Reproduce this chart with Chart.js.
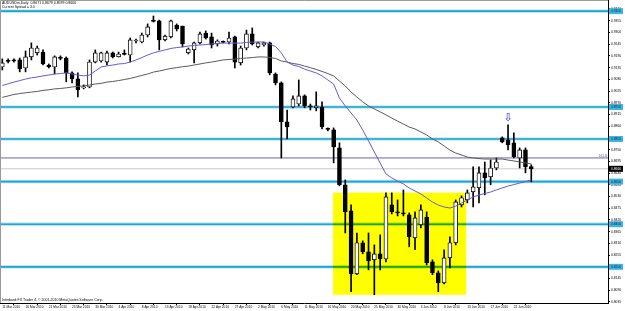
<!DOCTYPE html>
<html><head><meta charset="utf-8">
<script src="https://cdn.jsdelivr.net/npm/chart.js@4.4.1/dist/chart.umd.min.js"></script>
<style>html,body{margin:0;padding:0;background:#fff;overflow:hidden}canvas{display:block}</style>
</head><body>
<canvas id="c" width="625" height="311"></canvas>
<script>
// ---- data (AUDUSDm, Daily) ----
const barDates = ["11 Mar","12 Mar","14 Mar","15 Mar","16 Mar","17 Mar","18 Mar","19 Mar","21 Mar","22 Mar",
"23 Mar","24 Mar","25 Mar","26 Mar","28 Mar","29 Mar","30 Mar","31 Mar","1 Apr","2 Apr",
"4 Apr","5 Apr","6 Apr","7 Apr","8 Apr","9 Apr","11 Apr","12 Apr","13 Apr","14 Apr",
"15 Apr","16 Apr","18 Apr","19 Apr","20 Apr","21 Apr","22 Apr","23 Apr","25 Apr","26 Apr",
"27 Apr","28 Apr","29 Apr","30 Apr","2 May","3 May","4 May","5 May","6 May","7 May",
"9 May","10 May","11 May","12 May","13 May","14 May","16 May","17 May","18 May","19 May",
"20 May","21 May","23 May","24 May","25 May","26 May","27 May","28 May","30 May","31 May",
"1 Jun","2 Jun","3 Jun","4 Jun","6 Jun","7 Jun","8 Jun","9 Jun","10 Jun","11 Jun",
"13 Jun","14 Jun","15 Jun","16 Jun","17 Jun","18 Jun","20 Jun","21 Jun","22 Jun","23 Jun",
"24 Jun","25 Jun"];
const openP = [
.9138,.9166,.9171,.9171,.9133,.9185,.9204,.9208,.9147,.9138,
.9180,.9180,.9110,.9082,.9040,.9044,.9161,.9166,.9161,.9204,
.9185,.9199,.9194,.9260,.9255,.9288,.9354,.9354,.9265,.9279,
.9335,.9330,.9204,.9218,.9251,.9297,.9279,.9246,.9255,.9255,
.9279,.9157,.9227,.9293,.9232,.9241,.9251,.9105,.9063,.8880,
.8950,.8964,.9002,.8955,.8946,.8950,.8847,.8843,.8758,.8585,
.8463,.8167,.8313,.8270,.8233,.8261,.8237,.8491,.8458,.8453,
.8444,.8336,.8397,.8434,.8223,.8172,.8125,.8242,.8313,.8491,
.8514,.8552,.8571,.8641,.8622,.8664,.8805,.8796,.8782,.8711,
.8749,.8671];
const highP = [
.9176,.9176,.9176,.9180,.9213,.9251,.9236,.9218,.9152,.9190,
.9190,.9185,.9115,.9110,.9054,.9171,.9218,.9208,.9213,.9208,
.9208,.9218,.9274,.9269,.9297,.9340,.9377,.9358,.9288,.9358,
.9340,.9330,.9227,.9255,.9302,.9307,.9297,.9265,.9260,.9302,
.9283,.9236,.9311,.9321,.9255,.9255,.9255,.9110,.9068,.8936,
.9002,.9077,.9007,.8964,.9021,.8974,.8852,.8852,.8782,.8608,
.8491,.8359,.8322,.8359,.8303,.8350,.8547,.8547,.8514,.8561,
.8453,.8458,.8491,.8458,.8233,.8181,.8280,.8341,.8514,.8533,
.8561,.8669,.8669,.8692,.8702,.8711,.8810,.8866,.8829,.8758,
.8758,.8679];
const lowP = [
.9124,.9157,.9161,.9115,.9115,.9171,.9194,.9147,.9133,.9105,
.9171,.9068,.9063,.8997,.9035,.9040,.9157,.9161,.9147,.9180,
.9185,.9194,.9161,.9251,.9251,.9279,.9349,.9218,.9260,.9274,
.9307,.9232,.9199,.9157,.9246,.9269,.9227,.9236,.9251,.9246,
.9133,.9147,.9218,.9241,.9227,.9236,.9101,.9054,.8711,.8800,
.8946,.8955,.8946,.8936,.8932,.8847,.8838,.8688,.8580,.8359,
.8083,.8163,.8261,.8186,.8069,.8186,.8223,.8448,.8439,.8439,
.8294,.8280,.8383,.8209,.8163,.8083,.8120,.8195,.8303,.8481,
.8500,.8481,.8500,.8538,.8585,.8655,.8782,.8749,.8711,.8664,
.8641,.8599];
const closeP = [
.9157,.9164,.9166,.9129,.9185,.9227,.9227,.9152,.9138,.9185,
.9178,.9110,.9082,.9030,.9044,.9161,.9204,.9204,.9204,.9185,
.9199,.9197,.9265,.9262,.9288,.9326,.9352,.9265,.9283,.9354,
.9316,.9246,.9222,.9251,.9293,.9274,.9241,.9260,.9253,.9274,
.9161,.9227,.9293,.9246,.9251,.9251,.9110,.9063,.8880,.8857,
.8988,.9002,.8955,.8950,.8955,.8857,.8845,.8763,.8585,.8458,
.8167,.8313,.8270,.8228,.8261,.8237,.8528,.8458,.8453,.8448,
.8341,.8430,.8467,.8219,.8172,.8125,.8242,.8313,.8505,.8524,
.8547,.8575,.8641,.8617,.8664,.8692,.8786,.8772,.8716,.8749,
.8669,.8660];
const maFast = [
.9051,.9059,.9067,.9074,.9081,.9087,.9091,.9096,.9100,.9105,
.9107,.9110,.9105,.9100,.9096,.9100,.9119,.9138,.9143,.9147,
.9152,.9154,.9161,.9171,.9182,.9194,.9204,.9211,.9218,.9225,
.9229,.9232,.9236,.9239,.9241,.9243,.9246,.9248,.9250,.9250,
.9250,.9250,.9253,.9255,.9255,.9255,.9246,.9234,.9204,.9161,
.9147,.9140,.9128,.9119,.9110,.9096,.9077,.9058,.8992,.8955,
.8922,.8889,.8842,.8791,.8739,.8687,.8636,.8617,.8603,.8589,
.8570,.8556,.8542,.8523,.8504,.8490,.8481,.8476,.8485,.8500,
.8514,.8528,.8537,.8544,.8551,.8561,.8570,.8579,.8586,.8593,
.8600,.8608];
const maSlow = [
.8995,.9002,.9009,.9013,.9017,.9020,.9023,.9028,.9031,.9035,
.9037,.9040,.9044,.9047,.9049,.9053,.9058,.9061,.9067,.9070,
.9074,.9079,.9084,.9091,.9098,.9105,.9114,.9119,.9125,.9131,
.9135,.9139,.9142,.9147,.9152,.9157,.9161,.9166,.9171,.9173,
.9175,.9178,.9180,.9182,.9185,.9185,.9182,.9178,.9166,.9161,
.9154,.9150,.9142,.9135,.9126,.9117,.9107,.9096,.9072,.9049,
.9020,.8997,.8974,.8955,.8941,.8927,.8913,.8898,.8884,.8870,
.8856,.8847,.8833,.8819,.8800,.8786,.8767,.8748,.8734,.8725,
.8715,.8711,.8708,.8706,.8706,.8706,.8706,.8701,.8697,.8692,
.8687,.8683];
const dateTickIdx = [0,4,8,12,16,20,24,28,32,36,40,44,48,52,56,60,64,68,72,76,80,84,88];
const dateTickLabels = ["11 Mar 2010","16 Mar 2010","21 Mar 2010","25 Mar 2010","30 Mar 2010","4 Apr 2010","8 Apr 2010","13 Apr 2010","18 Apr 2010","22 Apr 2010","27 Apr 2010","2 May 2010","6 May 2010","11 May 2010","16 May 2010","20 May 2010","25 May 2010","30 May 2010","3 Jun 2010","8 Jun 2010","13 Jun 2010","17 Jun 2010","22 Jun 2010"];
const priceTicks = [0.8035,0.8090,0.8145,0.8200,0.8255,0.8310,0.8365,0.8420,0.8475,0.8530,0.8585,0.8640,0.8695,0.8750,0.8805,0.8860,0.8915,0.8970,0.9025,0.9080,0.9135,0.9190,0.9245,0.9300,0.9355,0.9410];
const levelLines = [0.9400,0.8950,0.8800,0.8600,0.8400,0.8200];
const fiboLevel = 0.8711, fiboText = "161.8";
const bidPrice = 0.8660;
const zoneX = [56.9, 79.8], zoneY = [0.8069, 0.8548];
const arrowBar = 87, arrowPrice = 0.8900;
const headerLines = ["AUDUSDm,Daily  0.8671 0.8679 0.8599 0.8660", "Current Spread = 3.0"];
const footerText = "Interbank FX Trader 4, \u00A9 2001-2010 MetaQuotes Software Corp.";

// ---- chart ----
const idx = barDates.map((d,i)=>i);
const wickData = idx.map(i=>({x:i, y:[lowP[i], highP[i]]}));
const bodyData = idx.map(i=>({x:i, y:[Math.min(openP[i],closeP[i]), Math.max(openP[i],closeP[i])]}));
const FONT = "'Liberation Sans', Arial, sans-serif";

const mt4 = {
  id:'mt4',
  beforeDraw(chart){
    const c = chart.ctx; c.save(); c.fillStyle='#fff'; c.fillRect(0,0,chart.width,chart.height); c.restore();
  },
  beforeDatasetsDraw(chart){
    const c = chart.ctx, a = chart.chartArea, xs = chart.scales.x, ys = chart.scales.y;
    c.save();
    c.beginPath(); c.rect(a.left, a.top, a.right-a.left, a.bottom-a.top); c.clip();
    let y = ys.getPixelForValue(bidPrice);
    c.strokeStyle = '#c8c8c8'; c.lineWidth = 1;
    c.beginPath(); c.moveTo(a.left, y); c.lineTo(a.right, y); c.stroke();
    y = ys.getPixelForValue(fiboLevel);
    c.strokeStyle = '#6c68a4'; c.lineWidth = 1;
    c.beginPath(); c.moveTo(a.left, y); c.lineTo(a.right, y); c.stroke();
    levelLines.forEach(v=>{
      const yy = ys.getPixelForValue(v);
      c.strokeStyle = '#a6e0f4'; c.lineWidth = 3.2;
      c.beginPath(); c.moveTo(a.left, yy); c.lineTo(a.right, yy); c.stroke();
      c.strokeStyle = '#1ea4d4'; c.lineWidth = 1.6;
      c.beginPath(); c.moveTo(a.left, yy); c.lineTo(a.right, yy); c.stroke();
    });
    const x0 = xs.getPixelForValue(zoneX[0]), x1 = xs.getPixelForValue(zoneX[1]);
    const y0 = ys.getPixelForValue(zoneY[1]), y1 = ys.getPixelForValue(zoneY[0]);
    c.globalCompositeOperation = 'multiply';
    c.fillStyle = '#ffff00';
    c.fillRect(x0, y0, x1-x0, y1-y0);
    c.restore();
  },
  afterDatasetsDraw(chart){
    const c = chart.ctx, a = chart.chartArea, xs = chart.scales.x, ys = chart.scales.y;
    c.save();
    c.fillStyle = '#5a56a0'; c.font = '3.4px ' + FONT; c.textAlign='right'; c.textBaseline='bottom';
    c.fillText(fiboText, a.right-1, ys.getPixelForValue(fiboLevel)-0.5);
    c.fillStyle = '#2a2ec0'; c.font = '11px "DejaVu Sans"'; c.textAlign='center'; c.textBaseline='middle';
    c.fillText('\u21E9', xs.getPixelForValue(arrowBar), ys.getPixelForValue(arrowPrice));
    c.restore();
  },
  afterDraw(chart){
    const c = chart.ctx, a = chart.chartArea, ys = chart.scales.y;
    c.save();
    c.strokeStyle = '#9a9a9a'; c.lineWidth = 1;
    c.beginPath(); c.moveTo(0.5, a.bottom); c.lineTo(0.5, 0.5); c.lineTo(a.right, 0.5); c.stroke();
    c.fillStyle = '#000'; c.font = '3.5px ' + FONT; c.textAlign='left'; c.textBaseline='top';
    c.fillText(headerLines[0], 2, 1.5);
    c.fillText(headerLines[1], 2, 5.5);
    c.textBaseline='bottom';
    c.fillText(footerText, 2, a.bottom-1);
    c.font = '3.3px ' + FONT; c.textBaseline='middle';
    levelLines.forEach(v=>{
      const y = ys.getPixelForValue(v);
      c.fillStyle = '#3cb4e4'; c.fillRect(a.right+1, y-3, 14, 6);
      c.fillStyle = '#0a2a40'; c.fillText(v.toFixed(4), a.right+3, y);
    });
    const yb = ys.getPixelForValue(bidPrice);
    c.fillStyle = '#000'; c.fillRect(a.right+1, yb-3, 14, 6);
    c.fillStyle = '#fff'; c.fillText(bidPrice.toFixed(4), a.right+3, yb);
    c.restore();
  }
};

new Chart(document.getElementById('c'), {
  data: {
    datasets: [
      { type:'line', label:'MA fast', data: maFast.map((v,i)=>({x:i,y:v})), borderColor:'#6a5ad2', borderWidth:1, pointRadius:0, tension:0, order:1 },
      { type:'line', label:'MA slow', data: maSlow.map((v,i)=>({x:i,y:v})), borderColor:'#5a5a5a', borderWidth:1, pointRadius:0, tension:0, order:1 },
      { type:'bar', label:'body', data: bodyData, grouped:false, barThickness:4, minBarLength:1,
        backgroundColor: ctx => closeP[ctx.dataIndex] >= openP[ctx.dataIndex] ? '#ffffff' : '#000000',
        borderColor:'#000', borderWidth:0.9, borderSkipped:false, order:2 },
      { type:'bar', label:'wick', data: wickData, grouped:false, barThickness:1, backgroundColor:'#000', order:3 }
    ]
  },
  options: {
    responsive:false, devicePixelRatio:1, animation:false,
    layout:{ padding:0 },
    plugins:{ legend:{display:false}, tooltip:{enabled:false} },
    scales:{
      x:{ type:'linear', position:'bottom', min:-0.3957, max:104.197, offset:false,
        afterBuildTicks: s => { s.ticks = dateTickIdx.map(v=>({value:v})); },
        afterFit: s => { s.height = 8; s.paddingLeft = 0; s.paddingRight = 0; },
        ticks:{ autoSkip:false, maxRotation:0, minRotation:0, align:'start', padding:0,
          font:{ size:3.2, family:FONT }, color:'#000',
          callback: v => { const k = dateTickIdx.indexOf(v); return k>=0 ? dateTickLabels[k] : ''; } },
        grid:{ display:true, drawOnChartArea:false, drawTicks:true, tickLength:2, color:'#000' },
        border:{ display:true, color:'#000' } },
      y:{ type:'linear', position:'right', min:0.80303, max:0.94522,
        afterBuildTicks: s => { s.ticks = priceTicks.map(v=>({value:v})); },
        afterFit: s => { s.width = 17; s.paddingTop = 0; s.paddingBottom = 0; },
        ticks:{ autoSkip:false, padding:1, font:{ size:3.3, family:FONT }, color:'#000',
          callback: v => Number(v).toFixed(4) },
        grid:{ display:true, drawOnChartArea:false, tickLength:2, color:'#000' },
        border:{ display:true, color:'#000' } }
    }
  },
  plugins:[mt4]
});
</script>
</body></html>
